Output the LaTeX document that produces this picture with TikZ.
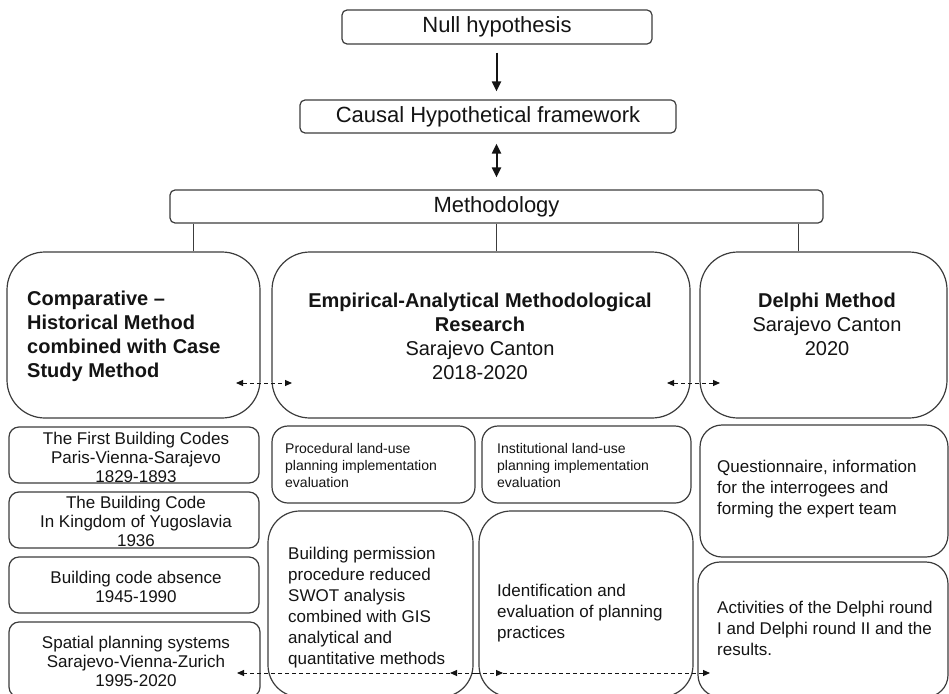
\documentclass[tikz,border=0pt]{standalone}
\usepackage{fontspec}
\setmainfont{Liberation Sans}
\usetikzlibrary{arrows.meta}
\definecolor{edge}{HTML}{3c3c3c}
\definecolor{ink}{HTML}{141414}
\tikzset{
  box/.style={draw=edge, line width=1.2pt, rectangle, inner sep=0pt, fill=white},
  lbl/.style={inner sep=0pt, text=ink},
  bigfont/.style={font=\fontsize{22}{26}\selectfont},
  headfont/.style={font=\fontsize{20}{24}\selectfont},
  colfont/.style={font=\fontsize{17}{19}\selectfont},
  bodyfont/.style={font=\fontsize{17}{21}\selectfont},
  smallfont/.style={font=\fontsize{14}{17}\selectfont},
  flow/.style={draw=ink, line width=2pt, -{Triangle[length=10pt,width=9pt]}},
  flowboth/.style={draw=ink, line width=2pt, {Triangle[length=10pt,width=9pt]}-{Triangle[length=10pt,width=9pt]}},
  link/.style={draw=edge, line width=1.2pt},
  dsh/.style={draw=ink, line width=1pt, dash pattern=on 4pt off 3pt},
  dtip/.style={-{Triangle[length=7pt,width=6pt]}},
}
\begin{document}
\begin{tikzpicture}[x=1pt, y=-1pt]
\useasboundingbox (0,0) rectangle (949,693);

% top chain
\node[box, rounded corners=5pt, minimum width=310pt, minimum height=34pt, bigfont, text=ink] (null) at (497,27) {Null hypothesis};
\node[box, rounded corners=5pt, minimum width=376pt, minimum height=33pt, bigfont, text=ink] (causal) at (488,116.5) {Causal Hypothetical framework};
\node[box, rounded corners=5pt, minimum width=653pt, minimum height=33pt, bigfont, text=ink] (meth) at (496.5,206.5) {Methodology};

\draw[flow, shorten <=8pt, shorten >=8pt] (null.south -| meth.north) -- (causal.north -| meth.north);
\draw[flowboth, shorten <=10pt, shorten >=12pt] (causal.south -| meth.north) -- (meth.north);

% three method boxes
\node[box, rounded corners=38pt, minimum width=253pt, minimum height=166pt] (cmp) at (133.5,335) {};
\node[box, rounded corners=38pt, minimum width=418pt, minimum height=166pt] (emp) at (481,335) {};
\node[box, rounded corners=38pt, minimum width=247pt, minimum height=166pt] (del) at (823.5,335) {};

\coordinate (tl) at ([xshift=24pt]meth.south west);
\coordinate (tr) at ([xshift=-25pt]meth.south east);
\draw[link] (tl) -- (tl |- cmp.north);
\draw[link] (meth.south) -- (meth.south |- emp.north);
\draw[link] (tr) -- (tr |- del.north);

\node[lbl, headfont, anchor=west, align=left] (tcmp) at (27,336)
  {\textbf{Comparative –}\\\textbf{Historical Method}\\\textbf{combined with Case}\\\textbf{Study Method}};
\node[lbl, headfont, align=center] (temp) at (480,336)
  {\textbf{Empirical-Analytical Methodological}\\\textbf{Research}\\Sarajevo Canton\\2018-2020};
\node[lbl, headfont, align=center] (tdel) at (827,324)
  {\textbf{Delphi Method}\\Sarajevo Canton\\2020};

\coordinate (ua) at (236,383);
\coordinate (ub) at (292,383);
\coordinate (uc) at (667,383);
\coordinate (ud) at (720,383);
\draw[dsh, {Triangle[length=7pt,width=6pt]}-{Triangle[length=7pt,width=6pt]}] (ua) -- (ub);
\draw[dsh, {Triangle[length=7pt,width=6pt]}-{Triangle[length=7pt,width=6pt]}] (uc) -- (ud);

% historical column
\node[box, rounded corners=10pt, minimum width=250pt, minimum height=56pt] (h1) at (134,455) {};
\node[box, rounded corners=10pt, minimum width=250pt, minimum height=56pt] (h2) at (134,520) {};
\node[box, rounded corners=10pt, minimum width=250pt, minimum height=56pt] (h3) at (134,585) {};
\node[box, rounded corners=10pt, minimum width=251pt, minimum height=75pt] (h4) at (134.5,659.5) {};
\node[lbl, colfont, align=center] (th1) at (136,457) {The First Building Codes\\Paris-Vienna-Sarajevo\\1829-1893};
\node[lbl, colfont, align=center] (th2) at (136,521) {The Building Code\\In Kingdom of Yugoslavia\\1936};
\node[lbl, colfont, align=center] (th3) at (136,587) {Building code absence\\1945-1990};
\node[lbl, colfont, align=center] (th4) at (136,661) {Spatial planning systems\\Sarajevo-Vienna-Zurich\\1995-2020};

% empirical column
\node[box, rounded corners=16pt, minimum width=203pt, minimum height=77pt] (proc) at (373.5,464.5) {};
\node[box, rounded corners=16pt, minimum width=209pt, minimum height=77pt] (inst) at (586.5,464.5) {};
\node[box, rounded corners=32pt, minimum width=205pt, minimum height=186pt] (bld) at (370.5,604) {};
\node[box, rounded corners=32pt, minimum width=214pt, minimum height=186pt] (idf) at (586,604) {};
\node[lbl, smallfont, anchor=north west, align=left] (tproc) at (285,443)
  {Procedural land-use\\planning implementation\\evaluation};
\node[lbl, smallfont, anchor=north west, align=left] (tinst) at (497,443)
  {Institutional land-use\\planning implementation\\evaluation};
\node[lbl, bodyfont, anchor=north west, align=left] (tbld) at (288,547)
  {Building permission\\procedure reduced\\SWOT analysis\\combined with GIS\\analytical and\\quantitative methods};
\node[lbl, bodyfont, anchor=north west, align=left] (tidf) at (497,584)
  {Identification and\\evaluation of planning\\practices};

% delphi column
\node[box, rounded corners=22pt, minimum width=248pt, minimum height=132pt] (qst) at (824,491) {};
\node[box, rounded corners=22pt, minimum width=250pt, minimum height=135pt] (act) at (823,629.5) {};
\node[lbl, bodyfont, anchor=north west, align=left] (tqst) at (717,460)
  {Questionnaire, information\\for the interrogees and\\forming the expert team};
\node[lbl, bodyfont, anchor=north west, align=left] (tact) at (717,601)
  {Activities of the Delphi round\\I and Delphi round II and the\\results.};

% bottom cross links
\coordinate (bm) at (476,673);
\coordinate (bl1) at (450,673);
\coordinate (bl2) at (237,673);
\coordinate (br1) at (503,673);
\coordinate (br2) at (710,673);
\draw[dsh, dtip] (bm) -- (bl1);
\draw[dsh, dtip] (bl1) -- (bl2);
\draw[dsh, dtip] (bm) -- (br1);
\draw[dsh, dtip] (br1) -- (br2);
\end{tikzpicture}
\end{document}
